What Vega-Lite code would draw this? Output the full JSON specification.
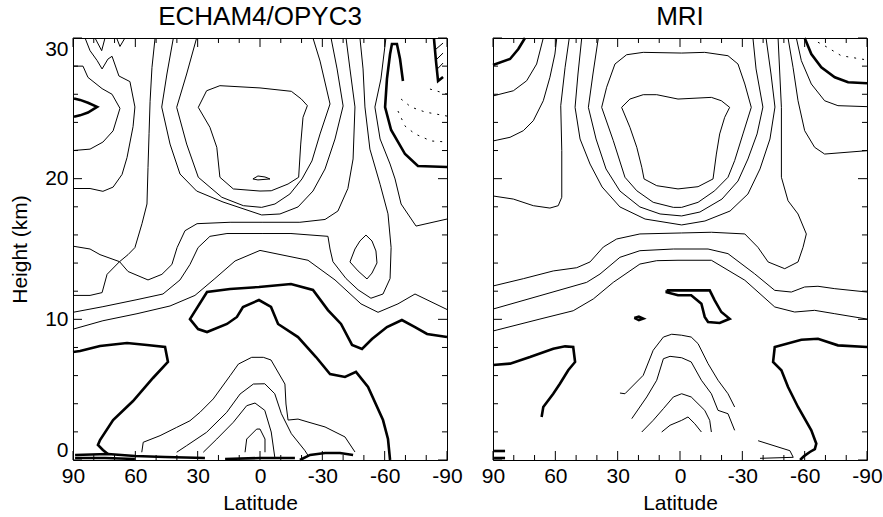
{
"$schema":"https://vega.github.io/schema/vega-lite/v6.json",
"background":"white",
"padding":{"left":9,"top":3,"right":0,"bottom":2},
"bounds":"flush",
"spacing":46,
"config":{
 "view":{"stroke":"black","strokeWidth":1},
 "font":"Liberation Sans",
 "axis":{"grid":false,"domain":false,"ticks":false,"labelColor":"black","titleColor":"black","labelFont":"Liberation Sans","titleFont":"Liberation Sans","labelFontSize":21,"titleFontSize":21,"titleFontWeight":"normal","labelFlush":false,"labelOverlap":false},
 "title":{"font":"Liberation Sans","fontSize":26,"fontWeight":"normal","color":"black"}
},
"datasets":{
"xt":[{"v":-90,"k":"major"},{"v":-80,"k":"minor"},{"v":-70,"k":"minor"},{"v":-60,"k":"major"},{"v":-50,"k":"minor"},{"v":-40,"k":"minor"},{"v":-30,"k":"major"},{"v":-20,"k":"minor"},{"v":-10,"k":"minor"},{"v":0,"k":"major"},{"v":10,"k":"minor"},{"v":20,"k":"minor"},{"v":30,"k":"major"},{"v":40,"k":"minor"},{"v":50,"k":"minor"},{"v":60,"k":"major"},{"v":70,"k":"minor"},{"v":80,"k":"minor"},{"v":90,"k":"major"}],
"yt":[{"v":0,"k":"major"},{"v":2,"k":"minor"},{"v":4,"k":"minor"},{"v":6,"k":"minor"},{"v":8,"k":"minor"},{"v":10,"k":"major"},{"v":12,"k":"minor"},{"v":14,"k":"minor"},{"v":16,"k":"minor"},{"v":18,"k":"minor"},{"v":20,"k":"major"},{"v":22,"k":"minor"},{"v":24,"k":"minor"},{"v":26,"k":"minor"},{"v":28,"k":"minor"},{"v":30,"k":"major"}],
"left":[
{"c":"A","lv":"pos","i":0,"lat":90,"h":28.0},{"c":"A","lv":"pos","i":1,"lat":85.2,"h":28.0},{"c":"A","lv":"pos","i":2,"lat":82.8,"h":27.2},{"c":"A","lv":"pos","i":3,"lat":76.0,"h":26.4},{"c":"A","lv":"pos","i":4,"lat":71.2,"h":26.0},{"c":"A","lv":"pos","i":5,"lat":67.4,"h":25.0},{"c":"A","lv":"pos","i":6,"lat":70.7,"h":23.4},{"c":"A","lv":"pos","i":7,"lat":75.6,"h":22.6},{"c":"A","lv":"pos","i":8,"lat":81.8,"h":22.1},{"c":"A","lv":"pos","i":9,"lat":90,"h":22.0},
{"c":"V","lv":"zero","i":0,"lat":89.5,"h":25.7},{"c":"V","lv":"zero","i":1,"lat":86.6,"h":25.6},{"c":"V","lv":"zero","i":2,"lat":82.8,"h":25.4},{"c":"V","lv":"zero","i":3,"lat":78.4,"h":25.1},{"c":"V","lv":"zero","i":4,"lat":82.8,"h":24.7},{"c":"V","lv":"zero","i":5,"lat":86.6,"h":24.5},{"c":"V","lv":"zero","i":6,"lat":89.5,"h":24.4},
{"c":"B","lv":"pos","i":0,"lat":84.2,"h":30},{"c":"B","lv":"pos","i":1,"lat":81.8,"h":29.1},{"c":"B","lv":"pos","i":2,"lat":78.4,"h":28.4},{"c":"B","lv":"pos","i":3,"lat":76.0,"h":27.8},{"c":"B","lv":"pos","i":4,"lat":73.2,"h":28.5},{"c":"B","lv":"pos","i":5,"lat":71.2,"h":28.7},{"c":"B","lv":"pos","i":6,"lat":67.9,"h":27.3},{"c":"B","lv":"pos","i":7,"lat":62.6,"h":26.9},{"c":"B","lv":"pos","i":8,"lat":60.2,"h":25.1},{"c":"B","lv":"pos","i":9,"lat":61.1,"h":23.7},{"c":"B","lv":"pos","i":10,"lat":64.0,"h":21.5},{"c":"B","lv":"pos","i":11,"lat":66.4,"h":20.3},{"c":"B","lv":"pos","i":12,"lat":70.7,"h":19.4},{"c":"B","lv":"pos","i":13,"lat":75.6,"h":19.1},{"c":"B","lv":"pos","i":14,"lat":81.8,"h":19.3},{"c":"B","lv":"pos","i":15,"lat":87.6,"h":19.3},{"c":"B","lv":"pos","i":16,"lat":90,"h":19.3},
{"c":"v2","lv":"pos","i":0,"lat":79.4,"h":30},{"c":"v2","lv":"pos","i":1,"lat":76.2,"h":29.1},{"c":"v2","lv":"pos","i":2,"lat":74.6,"h":30},
{"c":"u","lv":"pos","i":0,"lat":69.0,"h":30},{"c":"u","lv":"pos","i":1,"lat":67.4,"h":29.4},{"c":"u","lv":"pos","i":2,"lat":65.0,"h":30},
{"c":"C","lv":"pos","i":0,"lat":50.5,"h":30},{"c":"C","lv":"pos","i":1,"lat":52.0,"h":27.9},{"c":"C","lv":"pos","i":2,"lat":52.9,"h":25.5},{"c":"C","lv":"pos","i":3,"lat":53.4,"h":23.2},{"c":"C","lv":"pos","i":4,"lat":53.9,"h":20.8},{"c":"C","lv":"pos","i":5,"lat":54.4,"h":18.2},{"c":"C","lv":"pos","i":6,"lat":56.8,"h":16.8},{"c":"C","lv":"pos","i":7,"lat":60.2,"h":15.1},{"c":"C","lv":"pos","i":8,"lat":63.5,"h":14.6},{"c":"C","lv":"pos","i":9,"lat":67.6,"h":14.1},
{"c":"Xl","lv":"pos","i":0,"lat":90,"h":15.2},{"c":"Xl","lv":"pos","i":1,"lat":81.8,"h":15.0},{"c":"Xl","lv":"pos","i":2,"lat":77.0,"h":14.6},{"c":"Xl","lv":"pos","i":3,"lat":67.6,"h":14.1},
{"c":"T1","lv":"pos","i":0,"lat":90,"h":11.7},{"c":"T1","lv":"pos","i":1,"lat":81.8,"h":11.7},{"c":"T1","lv":"pos","i":2,"lat":76.0,"h":11.9},{"c":"T1","lv":"pos","i":3,"lat":73.6,"h":13.2},{"c":"T1","lv":"pos","i":4,"lat":67.6,"h":14.1},
{"c":"D","lv":"pos","i":0,"lat":67.6,"h":14.1},{"c":"D","lv":"pos","i":1,"lat":63.5,"h":13.4},{"c":"D","lv":"pos","i":2,"lat":53.9,"h":12.8},{"c":"D","lv":"pos","i":3,"lat":47.2,"h":13.2},{"c":"D","lv":"pos","i":4,"lat":42.4,"h":13.9},{"c":"D","lv":"pos","i":5,"lat":39.9,"h":15.1},{"c":"D","lv":"pos","i":6,"lat":36.1,"h":16.3},{"c":"D","lv":"pos","i":7,"lat":30.3,"h":16.8},{"c":"D","lv":"pos","i":8,"lat":14.4,"h":16.9},{"c":"D","lv":"pos","i":9,"lat":-1.0,"h":16.9},{"c":"D","lv":"pos","i":10,"lat":-19.2,"h":16.9},{"c":"D","lv":"pos","i":11,"lat":-31.3,"h":17.1},{"c":"D","lv":"pos","i":12,"lat":-37.5,"h":17.7},{"c":"D","lv":"pos","i":13,"lat":-42.3,"h":19.3},{"c":"D","lv":"pos","i":14,"lat":-44.8,"h":21.4},{"c":"D","lv":"pos","i":15,"lat":-45.7,"h":25.1},{"c":"D","lv":"pos","i":16,"lat":-43.3,"h":27.8},{"c":"D","lv":"pos","i":17,"lat":-41.4,"h":30},
{"c":"T2","lv":"pos","i":0,"lat":90,"h":10.5},{"c":"T2","lv":"pos","i":1,"lat":75.6,"h":10.9},{"c":"T2","lv":"pos","i":2,"lat":59.2,"h":11.4},{"c":"T2","lv":"pos","i":3,"lat":46.7,"h":11.8},{"c":"T2","lv":"pos","i":4,"lat":38.5,"h":12.8},{"c":"T2","lv":"pos","i":5,"lat":33.7,"h":13.9},{"c":"T2","lv":"pos","i":6,"lat":29.8,"h":15.1},{"c":"T2","lv":"pos","i":7,"lat":24.1,"h":15.9},{"c":"T2","lv":"pos","i":8,"lat":15.9,"h":16.1},{"c":"T2","lv":"pos","i":9,"lat":-1.0,"h":16.1},{"c":"T2","lv":"pos","i":10,"lat":-14.9,"h":16.1},{"c":"T2","lv":"pos","i":11,"lat":-32.7,"h":15.9},{"c":"T2","lv":"pos","i":12,"lat":-33.7,"h":15.0},{"c":"T2","lv":"pos","i":13,"lat":-35.1,"h":14.1},{"c":"T2","lv":"pos","i":14,"lat":-41.4,"h":12.9},{"c":"T2","lv":"pos","i":15,"lat":-47.2,"h":12.1},{"c":"T2","lv":"pos","i":16,"lat":-53.4,"h":11.5},{"c":"T2","lv":"pos","i":17,"lat":-59.2,"h":11.8},{"c":"T2","lv":"pos","i":18,"lat":-62.6,"h":12.9},{"c":"T2","lv":"pos","i":19,"lat":-63.1,"h":15.1},{"c":"T2","lv":"pos","i":20,"lat":-61.6,"h":17.5},{"c":"T2","lv":"pos","i":21,"lat":-57.8,"h":19.6},{"c":"T2","lv":"pos","i":22,"lat":-52.9,"h":22.1},{"c":"T2","lv":"pos","i":23,"lat":-50.5,"h":25.1},{"c":"T2","lv":"pos","i":24,"lat":-49.6,"h":27.8},{"c":"T2","lv":"pos","i":25,"lat":-48.1,"h":30},
{"c":"T3","lv":"pos","i":0,"lat":90,"h":9.3},{"c":"T3","lv":"pos","i":1,"lat":75.6,"h":9.9},{"c":"T3","lv":"pos","i":2,"lat":59.2,"h":10.4},{"c":"T3","lv":"pos","i":3,"lat":43.3,"h":10.95},{"c":"T3","lv":"pos","i":4,"lat":31.3,"h":11.7},{"c":"T3","lv":"pos","i":5,"lat":21.7,"h":12.9},{"c":"T3","lv":"pos","i":6,"lat":12.0,"h":14.15},{"c":"T3","lv":"pos","i":7,"lat":0.0,"h":14.9},{"c":"T3","lv":"pos","i":8,"lat":-23.1,"h":14.2},{"c":"T3","lv":"pos","i":9,"lat":-36.1,"h":12.8},{"c":"T3","lv":"pos","i":10,"lat":-48.6,"h":11.1},{"c":"T3","lv":"pos","i":11,"lat":-56.8,"h":10.5},{"c":"T3","lv":"pos","i":12,"lat":-66.4,"h":11.1},{"c":"T3","lv":"pos","i":13,"lat":-74.6,"h":11.8},{"c":"T3","lv":"pos","i":14,"lat":-90,"h":10.7},
{"c":"Th1","lv":"zero","i":0,"lat":-90,"h":8.74},{"c":"Th1","lv":"zero","i":1,"lat":-80.4,"h":8.96},{"c":"Th1","lv":"zero","i":2,"lat":-74.6,"h":9.45},{"c":"Th1","lv":"zero","i":3,"lat":-68.3,"h":9.95},{"c":"Th1","lv":"zero","i":4,"lat":-61.1,"h":9.45},{"c":"Th1","lv":"zero","i":5,"lat":-53.9,"h":8.6},{"c":"Th1","lv":"zero","i":6,"lat":-49.1,"h":7.89},{"c":"Th1","lv":"zero","i":7,"lat":-44.3,"h":8.18},{"c":"Th1","lv":"zero","i":8,"lat":-39.0,"h":9.67},{"c":"Th1","lv":"zero","i":9,"lat":-32.7,"h":10.66},{"c":"Th1","lv":"zero","i":10,"lat":-25.5,"h":12.09},{"c":"Th1","lv":"zero","i":11,"lat":-14.9,"h":12.51},{"c":"Th1","lv":"zero","i":12,"lat":0.5,"h":12.3},{"c":"Th1","lv":"zero","i":13,"lat":14.4,"h":12.16},{"c":"Th1","lv":"zero","i":14,"lat":25.5,"h":11.94},{"c":"Th1","lv":"zero","i":15,"lat":33.7,"h":10.02},{"c":"Th1","lv":"zero","i":16,"lat":29.8,"h":9.31},{"c":"Th1","lv":"zero","i":17,"lat":25.5,"h":9.1},{"c":"Th1","lv":"zero","i":18,"lat":15.9,"h":9.67},{"c":"Th1","lv":"zero","i":19,"lat":11.1,"h":10.17},{"c":"Th1","lv":"zero","i":20,"lat":8.2,"h":10.88},{"c":"Th1","lv":"zero","i":21,"lat":0.5,"h":11.37},{"c":"Th1","lv":"zero","i":22,"lat":-5.3,"h":10.88},{"c":"Th1","lv":"zero","i":23,"lat":-8.7,"h":9.67},{"c":"Th1","lv":"zero","i":24,"lat":-18.3,"h":8.74},{"c":"Th1","lv":"zero","i":25,"lat":-26.95,"h":7.32},{"c":"Th1","lv":"zero","i":26,"lat":-33.7,"h":6.11},{"c":"Th1","lv":"zero","i":27,"lat":-40.9,"h":5.9},{"c":"Th1","lv":"zero","i":28,"lat":-46.2,"h":6.26},{"c":"Th1","lv":"zero","i":29,"lat":-52.0,"h":5.19},{"c":"Th1","lv":"zero","i":30,"lat":-59.2,"h":2.84},{"c":"Th1","lv":"zero","i":31,"lat":-61.6,"h":1.49},{"c":"Th1","lv":"zero","i":32,"lat":-62.6,"h":0},
{"c":"Th2","lv":"zero","i":0,"lat":90,"h":7.68},{"c":"Th2","lv":"zero","i":1,"lat":86.6,"h":7.75},{"c":"Th2","lv":"zero","i":2,"lat":77.0,"h":8.1},{"c":"Th2","lv":"zero","i":3,"lat":64.0,"h":8.32},{"c":"Th2","lv":"zero","i":4,"lat":54.4,"h":8.18},{"c":"Th2","lv":"zero","i":5,"lat":45.7,"h":8.03},{"c":"Th2","lv":"zero","i":6,"lat":44.3,"h":6.97},{"c":"Th2","lv":"zero","i":7,"lat":51.5,"h":5.83},{"c":"Th2","lv":"zero","i":8,"lat":61.1,"h":4.19},{"c":"Th2","lv":"zero","i":9,"lat":70.7,"h":2.84},{"c":"Th2","lv":"zero","i":10,"lat":77.0,"h":1.42},{"c":"Th2","lv":"zero","i":11,"lat":78.0,"h":1.07},{"c":"Th2","lv":"zero","i":12,"lat":75.6,"h":0.71},{"c":"Th2","lv":"zero","i":13,"lat":73.2,"h":0.43},
{"c":"bz1","lv":"zero","i":0,"lat":89.0,"h":0.36},{"c":"bz1","lv":"zero","i":1,"lat":73.2,"h":0.43},{"c":"bz1","lv":"zero","i":2,"lat":60.2,"h":0.28},{"c":"bz1","lv":"zero","i":3,"lat":45.7,"h":0.21},{"c":"bz1","lv":"zero","i":4,"lat":26.5,"h":0.14},
{"c":"bz2","lv":"zero","i":0,"lat":89.0,"h":0.14},{"c":"bz2","lv":"zero","i":1,"lat":74.6,"h":0.14},{"c":"bz2","lv":"zero","i":2,"lat":60.2,"h":0.07},
{"c":"bz3","lv":"zero","i":0,"lat":16.8,"h":0.07},{"c":"bz3","lv":"zero","i":1,"lat":0.0,"h":0.14},{"c":"bz3","lv":"zero","i":2,"lat":-16.8,"h":0.14},
{"c":"bz4","lv":"zero","i":0,"lat":-19.2,"h":0},{"c":"bz4","lv":"zero","i":1,"lat":-24.1,"h":0.36},{"c":"bz4","lv":"zero","i":2,"lat":-31.3,"h":0.5},{"c":"bz4","lv":"zero","i":3,"lat":-38.5,"h":0.5},{"c":"bz4","lv":"zero","i":4,"lat":-44.8,"h":0.36},
{"c":"Bot1","lv":"pos","i":0,"lat":56.9,"h":0.55},{"c":"Bot1","lv":"pos","i":1,"lat":56.2,"h":1.26},{"c":"Bot1","lv":"pos","i":2,"lat":48.1,"h":1.73},{"c":"Bot1","lv":"pos","i":3,"lat":40.1,"h":2.32},{"c":"Bot1","lv":"pos","i":4,"lat":33.7,"h":2.79},{"c":"Bot1","lv":"pos","i":5,"lat":28.9,"h":3.39},{"c":"Bot1","lv":"pos","i":6,"lat":22.5,"h":4.34},{"c":"Bot1","lv":"pos","i":7,"lat":14.4,"h":5.99},{"c":"Bot1","lv":"pos","i":8,"lat":10.4,"h":6.82},{"c":"Bot1","lv":"pos","i":9,"lat":4.0,"h":7.3},{"c":"Bot1","lv":"pos","i":10,"lat":-1.6,"h":7.3},{"c":"Bot1","lv":"pos","i":11,"lat":-5.3,"h":7.11},{"c":"Bot1","lv":"pos","i":12,"lat":-12.0,"h":5.4},{"c":"Bot1","lv":"pos","i":13,"lat":-12.5,"h":3.98},{"c":"Bot1","lv":"pos","i":14,"lat":-13.5,"h":2.84},{"c":"Bot1","lv":"pos","i":15,"lat":-18.3,"h":2.91},{"c":"Bot1","lv":"pos","i":16,"lat":-23.1,"h":2.7},{"c":"Bot1","lv":"pos","i":17,"lat":-31.3,"h":2.35},{"c":"Bot1","lv":"pos","i":18,"lat":-40.9,"h":1.64},{"c":"Bot1","lv":"pos","i":19,"lat":-45.7,"h":0.57},
{"c":"Bot2","lv":"pos","i":0,"lat":40.1,"h":0.55},{"c":"Bot2","lv":"pos","i":1,"lat":35.3,"h":1.02},{"c":"Bot2","lv":"pos","i":2,"lat":25.7,"h":1.97},{"c":"Bot2","lv":"pos","i":3,"lat":16.0,"h":3.39},{"c":"Bot2","lv":"pos","i":4,"lat":9.6,"h":4.69},{"c":"Bot2","lv":"pos","i":5,"lat":3.2,"h":5.4},{"c":"Bot2","lv":"pos","i":6,"lat":-2.3,"h":5.42},{"c":"Bot2","lv":"pos","i":7,"lat":-7.1,"h":4.71},{"c":"Bot2","lv":"pos","i":8,"lat":-10.3,"h":3.29},{"c":"Bot2","lv":"pos","i":9,"lat":-15.1,"h":1.87},{"c":"Bot2","lv":"pos","i":10,"lat":-21.5,"h":0.69},{"c":"Bot2","lv":"pos","i":11,"lat":-23.1,"h":0.33},
{"c":"Bot3","lv":"pos","i":0,"lat":27.3,"h":0.55},{"c":"Bot3","lv":"pos","i":1,"lat":20.8,"h":1.49},{"c":"Bot3","lv":"pos","i":2,"lat":12.85,"h":2.68},{"c":"Bot3","lv":"pos","i":3,"lat":6.4,"h":3.86},{"c":"Bot3","lv":"pos","i":4,"lat":2.4,"h":4.05},{"c":"Bot3","lv":"pos","i":5,"lat":-2.3,"h":3.53},{"c":"Bot3","lv":"pos","i":6,"lat":-5.4,"h":1.99},{"c":"Bot3","lv":"pos","i":7,"lat":-7.1,"h":0.21},
{"c":"Bot4","lv":"pos","i":0,"lat":7.2,"h":0.55},{"c":"Bot4","lv":"pos","i":1,"lat":6.4,"h":1.49},{"c":"Bot4","lv":"pos","i":2,"lat":1.6,"h":2.2},{"c":"Bot4","lv":"pos","i":3,"lat":0,"h":2.2},{"c":"Bot4","lv":"pos","i":4,"lat":-2.4,"h":1.49},{"c":"Bot4","lv":"pos","i":5,"lat":-2.4,"h":0.55},
{"c":"In","lv":"pos","i":0,"lat":19.3,"h":26.61},{"c":"In","lv":"pos","i":1,"lat":25.7,"h":26.25},{"c":"In","lv":"pos","i":2,"lat":29.7,"h":25.07},{"c":"In","lv":"pos","i":3,"lat":24.1,"h":23.65},{"c":"In","lv":"pos","i":4,"lat":20.8,"h":22.23},{"c":"In","lv":"pos","i":5,"lat":19.3,"h":20.1},{"c":"In","lv":"pos","i":6,"lat":12.85,"h":19.27},{"c":"In","lv":"pos","i":7,"lat":0,"h":19.12},{"c":"In","lv":"pos","i":8,"lat":-5.4,"h":19.14},{"c":"In","lv":"pos","i":9,"lat":-13.5,"h":19.62},{"c":"In","lv":"pos","i":10,"lat":-18.6,"h":20.1},{"c":"In","lv":"pos","i":11,"lat":-19.6,"h":22.46},{"c":"In","lv":"pos","i":12,"lat":-20.7,"h":24.36},{"c":"In","lv":"pos","i":13,"lat":-22.8,"h":25.19},{"c":"In","lv":"pos","i":14,"lat":-19.9,"h":25.66},{"c":"In","lv":"pos","i":15,"lat":-15.1,"h":26.21},{"c":"In","lv":"pos","i":16,"lat":0,"h":26.45},{"c":"In","lv":"pos","i":17,"lat":19.3,"h":26.61},
{"c":"Tip","lv":"pos","i":0,"lat":3.4,"h":19.98},{"c":"Tip","lv":"pos","i":1,"lat":1.0,"h":20.19},{"c":"Tip","lv":"pos","i":2,"lat":-2.4,"h":20.12},{"c":"Tip","lv":"pos","i":3,"lat":-4.8,"h":19.98},{"c":"Tip","lv":"pos","i":4,"lat":1.0,"h":19.91},{"c":"Tip","lv":"pos","i":5,"lat":3.4,"h":19.98},
{"c":"U2","lv":"pos","i":0,"lat":30.5,"h":30},{"c":"U2","lv":"pos","i":1,"lat":35.3,"h":27.44},{"c":"U2","lv":"pos","i":2,"lat":40.1,"h":25.07},{"c":"U2","lv":"pos","i":3,"lat":35.3,"h":22.46},{"c":"U2","lv":"pos","i":4,"lat":29.7,"h":20.1},{"c":"U2","lv":"pos","i":5,"lat":18.4,"h":18.68},{"c":"U2","lv":"pos","i":6,"lat":8.0,"h":18.08},{"c":"U2","lv":"pos","i":7,"lat":-0.8,"h":17.96},{"c":"U2","lv":"pos","i":8,"lat":-7.2,"h":18.2},{"c":"U2","lv":"pos","i":9,"lat":-14.4,"h":18.91},{"c":"U2","lv":"pos","i":10,"lat":-20.2,"h":19.98},{"c":"U2","lv":"pos","i":11,"lat":-25.0,"h":21.26},{"c":"U2","lv":"pos","i":12,"lat":-28.9,"h":23.18},{"c":"U2","lv":"pos","i":13,"lat":-33.7,"h":25.31},{"c":"U2","lv":"pos","i":14,"lat":-28.9,"h":28.36},{"c":"U2","lv":"pos","i":15,"lat":-25.5,"h":30},
{"c":"U1","lv":"pos","i":0,"lat":41.7,"h":30},{"c":"U1","lv":"pos","i":1,"lat":44.8,"h":27.44},{"c":"U1","lv":"pos","i":2,"lat":47.3,"h":25.09},{"c":"U1","lv":"pos","i":3,"lat":43.3,"h":22.46},{"c":"U1","lv":"pos","i":4,"lat":38.5,"h":20.33},{"c":"U1","lv":"pos","i":5,"lat":30.5,"h":19.12},{"c":"U1","lv":"pos","i":6,"lat":17.8,"h":18.34},{"c":"U1","lv":"pos","i":7,"lat":-0.8,"h":17.42},{"c":"U1","lv":"pos","i":8,"lat":-9.6,"h":17.49},{"c":"U1","lv":"pos","i":9,"lat":-18.3,"h":17.99},{"c":"U1","lv":"pos","i":10,"lat":-25.5,"h":19.12},{"c":"U1","lv":"pos","i":11,"lat":-31.3,"h":20.69},{"c":"U1","lv":"pos","i":12,"lat":-36.1,"h":22.82},{"c":"U1","lv":"pos","i":13,"lat":-40.0,"h":25.17},{"c":"U1","lv":"pos","i":14,"lat":-37.1,"h":27.8},{"c":"U1","lv":"pos","i":15,"lat":-34.2,"h":30},
{"c":"R1","lv":"pos","i":0,"lat":-60.6,"h":30},{"c":"R1","lv":"pos","i":1,"lat":-58.2,"h":27.09},{"c":"R1","lv":"pos","i":2,"lat":-55.3,"h":25.09},{"c":"R1","lv":"pos","i":3,"lat":-57.8,"h":22.82},{"c":"R1","lv":"pos","i":4,"lat":-62.6,"h":21.04},{"c":"R1","lv":"pos","i":5,"lat":-65.0,"h":19.98},{"c":"R1","lv":"pos","i":6,"lat":-67.9,"h":18.2},{"c":"R1","lv":"pos","i":7,"lat":-75.1,"h":16.63},{"c":"R1","lv":"pos","i":8,"lat":-90,"h":17.13},
{"c":"Hook","lv":"zero","i":0,"lat":-68.8,"h":26.94},{"c":"Hook","lv":"zero","i":1,"lat":-67.4,"h":28.51},{"c":"Hook","lv":"zero","i":2,"lat":-65.9,"h":29.57},{"c":"Hook","lv":"zero","i":3,"lat":-63.5,"h":29.57},{"c":"Hook","lv":"zero","i":4,"lat":-62.6,"h":28.86},{"c":"Hook","lv":"zero","i":5,"lat":-61.1,"h":27.09},{"c":"Hook","lv":"zero","i":6,"lat":-60.2,"h":25.09},{"c":"Hook","lv":"zero","i":7,"lat":-63.1,"h":23.46},{"c":"Hook","lv":"zero","i":8,"lat":-69.8,"h":21.75},{"c":"Hook","lv":"zero","i":9,"lat":-76.0,"h":20.9},{"c":"Hook","lv":"zero","i":10,"lat":-90,"h":20.83},
{"c":"Hat","lv":"zero","i":0,"lat":-83.7,"h":30},{"c":"Hat","lv":"zero","i":1,"lat":-84.7,"h":28.36},{"c":"Hat","lv":"zero","i":2,"lat":-85.7,"h":26.94},{"c":"Hat","lv":"zero","i":3,"lat":-88.1,"h":27.23},
{"c":"h1","lv":"pos","i":0,"lat":-84.2,"h":29.15},{"c":"h1","lv":"pos","i":1,"lat":-88.1,"h":29.64},
{"c":"h2","lv":"pos","i":0,"lat":-84.7,"h":28.44},{"c":"h2","lv":"pos","i":1,"lat":-88.1,"h":28.93},
{"c":"h3","lv":"pos","i":0,"lat":-84.9,"h":27.73},{"c":"h3","lv":"pos","i":1,"lat":-88.1,"h":28.22},
{"c":"Dt1","lv":"neg","i":0,"lat":-67.9,"h":25.66},{"c":"Dt1","lv":"neg","i":1,"lat":-72.7,"h":25.09},{"c":"Dt1","lv":"neg","i":2,"lat":-79.4,"h":24.74},{"c":"Dt1","lv":"neg","i":3,"lat":-90,"h":24.45},
{"c":"Dt2","lv":"neg","i":0,"lat":-66.4,"h":24.81},{"c":"Dt2","lv":"neg","i":1,"lat":-69.8,"h":23.74},{"c":"Dt2","lv":"neg","i":2,"lat":-74.6,"h":23.18},{"c":"Dt2","lv":"neg","i":3,"lat":-82.3,"h":22.68},{"c":"Dt2","lv":"neg","i":4,"lat":-90,"h":22.61},
{"c":"Dt3","lv":"neg","i":0,"lat":-81.8,"h":26.37},{"c":"Dt3","lv":"neg","i":1,"lat":-90,"h":26.02},
{"c":"Lp","lv":"pos","i":0,"lat":-43.3,"h":14.08},{"c":"Lp","lv":"pos","i":1,"lat":-45.7,"h":15.0},{"c":"Lp","lv":"pos","i":2,"lat":-48.1,"h":15.57},{"c":"Lp","lv":"pos","i":3,"lat":-51.0,"h":15.99},{"c":"Lp","lv":"pos","i":4,"lat":-53.9,"h":15.57},{"c":"Lp","lv":"pos","i":5,"lat":-55.8,"h":14.86},{"c":"Lp","lv":"pos","i":6,"lat":-56.3,"h":14.01},{"c":"Lp","lv":"pos","i":7,"lat":-53.9,"h":13.29},{"c":"Lp","lv":"pos","i":8,"lat":-51.5,"h":12.87},{"c":"Lp","lv":"pos","i":9,"lat":-47.2,"h":13.44},{"c":"Lp","lv":"pos","i":10,"lat":-43.3,"h":14.08}
],
"right":[
{"c":"tl","lv":"zero","i":0,"lat":90,"h":28.08},{"c":"tl","lv":"zero","i":1,"lat":81.8,"h":28.51},{"c":"tl","lv":"zero","i":2,"lat":77.8,"h":29.22},{"c":"tl","lv":"zero","i":3,"lat":74.6,"h":30},
{"c":"r543","lv":"pos","i":0,"lat":90,"h":25.88},{"c":"r543","lv":"pos","i":1,"lat":80.2,"h":26.25},{"c":"r543","lv":"pos","i":2,"lat":73.8,"h":26.96},{"c":"r543","lv":"pos","i":3,"lat":69.0,"h":28.15},{"c":"r543","lv":"pos","i":4,"lat":65.8,"h":30},
{"c":"r557","lv":"pos","i":0,"lat":90,"h":22.68},{"c":"r557","lv":"pos","i":1,"lat":81.8,"h":22.94},{"c":"r557","lv":"pos","i":2,"lat":75.4,"h":23.41},{"c":"r557","lv":"pos","i":3,"lat":70.6,"h":24.12},{"c":"r557","lv":"pos","i":4,"lat":65.8,"h":25.54},{"c":"r557","lv":"pos","i":5,"lat":62.6,"h":27.21},{"c":"r557","lv":"pos","i":6,"lat":60.2,"h":28.86},{"c":"r557","lv":"pos","i":7,"lat":59.3,"h":30},
{"c":"V1","lv":"pos","i":0,"lat":53.3,"h":30},{"c":"V1","lv":"pos","i":1,"lat":55.3,"h":27.92},{"c":"V1","lv":"pos","i":2,"lat":57.4,"h":25.19},{"c":"V1","lv":"pos","i":3,"lat":56.9,"h":21.99},{"c":"V1","lv":"pos","i":4,"lat":56.9,"h":18.68},{"c":"V1","lv":"pos","i":5,"lat":58.6,"h":18.08},{"c":"V1","lv":"pos","i":6,"lat":62.6,"h":17.91},{"c":"V1","lv":"pos","i":7,"lat":70.6,"h":18.08},{"c":"V1","lv":"pos","i":8,"lat":80.2,"h":18.55},{"c":"V1","lv":"pos","i":9,"lat":90,"h":18.77},
{"c":"Ua","lv":"pos","i":0,"lat":47.3,"h":30},{"c":"Ua","lv":"pos","i":1,"lat":49.1,"h":27.44},{"c":"Ua","lv":"pos","i":2,"lat":50.5,"h":25.07},{"c":"Ua","lv":"pos","i":3,"lat":48.1,"h":22.82},{"c":"Ua","lv":"pos","i":4,"lat":43.3,"h":21.04},{"c":"Ua","lv":"pos","i":5,"lat":37.5,"h":19.41},{"c":"Ua","lv":"pos","i":6,"lat":28.9,"h":17.99},{"c":"Ua","lv":"pos","i":7,"lat":16.8,"h":17.13},{"c":"Ua","lv":"pos","i":8,"lat":-0.8,"h":16.71},{"c":"Ua","lv":"pos","i":9,"lat":-12.0,"h":16.99},{"c":"Ua","lv":"pos","i":10,"lat":-24.1,"h":17.7},{"c":"Ua","lv":"pos","i":11,"lat":-32.7,"h":18.91},{"c":"Ua","lv":"pos","i":12,"lat":-38.5,"h":20.69},{"c":"Ua","lv":"pos","i":13,"lat":-43.3,"h":22.82},{"c":"Ua","lv":"pos","i":14,"lat":-45.7,"h":25.09},{"c":"Ua","lv":"pos","i":15,"lat":-43.8,"h":27.44},{"c":"Ua","lv":"pos","i":16,"lat":-41.4,"h":30},
{"c":"Ub","lv":"pos","i":0,"lat":39.3,"h":30},{"c":"Ub","lv":"pos","i":1,"lat":41.9,"h":27.44},{"c":"Ub","lv":"pos","i":2,"lat":44.1,"h":25.07},{"c":"Ub","lv":"pos","i":3,"lat":40.4,"h":22.82},{"c":"Ub","lv":"pos","i":4,"lat":35.6,"h":20.69},{"c":"Ub","lv":"pos","i":5,"lat":28.9,"h":19.12},{"c":"Ub","lv":"pos","i":6,"lat":19.3,"h":17.99},{"c":"Ub","lv":"pos","i":7,"lat":9.6,"h":17.49},{"c":"Ub","lv":"pos","i":8,"lat":-0.8,"h":17.35},{"c":"Ub","lv":"pos","i":9,"lat":-9.6,"h":17.63},{"c":"Ub","lv":"pos","i":10,"lat":-20.2,"h":18.55},{"c":"Ub","lv":"pos","i":11,"lat":-27.9,"h":19.83},{"c":"Ub","lv":"pos","i":12,"lat":-32.7,"h":21.4},{"c":"Ub","lv":"pos","i":13,"lat":-37.1,"h":23.18},{"c":"Ub","lv":"pos","i":14,"lat":-39.9,"h":25.09},{"c":"Ub","lv":"pos","i":15,"lat":-36.6,"h":27.8},{"c":"Ub","lv":"pos","i":16,"lat":-35.1,"h":30},
{"c":"C2","lv":"pos","i":0,"lat":-0.8,"h":28.93},{"c":"C2","lv":"pos","i":1,"lat":17.7,"h":28.98},{"c":"C2","lv":"pos","i":2,"lat":25.7,"h":28.81},{"c":"C2","lv":"pos","i":3,"lat":31.3,"h":28.15},{"c":"C2","lv":"pos","i":4,"lat":35.3,"h":26.5},{"c":"C2","lv":"pos","i":5,"lat":37.7,"h":25.07},{"c":"C2","lv":"pos","i":6,"lat":32.1,"h":22.7},{"c":"C2","lv":"pos","i":7,"lat":26.5,"h":20.1},{"c":"C2","lv":"pos","i":8,"lat":20.8,"h":19.14},{"c":"C2","lv":"pos","i":9,"lat":12.9,"h":18.32},{"c":"C2","lv":"pos","i":10,"lat":3.2,"h":17.96},{"c":"C2","lv":"pos","i":11,"lat":-0.8,"h":17.96},{"c":"C2","lv":"pos","i":12,"lat":-8.7,"h":18.32},{"c":"C2","lv":"pos","i":13,"lat":-16.7,"h":19.14},{"c":"C2","lv":"pos","i":14,"lat":-23.1,"h":20.1},{"c":"C2","lv":"pos","i":15,"lat":-26.3,"h":21.28},{"c":"C2","lv":"pos","i":16,"lat":-30.3,"h":23.18},{"c":"C2","lv":"pos","i":17,"lat":-34.3,"h":25.07},{"c":"C2","lv":"pos","i":18,"lat":-31.2,"h":26.73},{"c":"C2","lv":"pos","i":19,"lat":-27.9,"h":28.15},{"c":"C2","lv":"pos","i":20,"lat":-23.1,"h":28.74},{"c":"C2","lv":"pos","i":21,"lat":-11.9,"h":28.98},{"c":"C2","lv":"pos","i":22,"lat":-0.8,"h":28.93},
{"c":"C1","lv":"pos","i":0,"lat":28.1,"h":25.07},{"c":"C1","lv":"pos","i":1,"lat":24.1,"h":25.66},{"c":"C1","lv":"pos","i":2,"lat":17.7,"h":25.97},{"c":"C1","lv":"pos","i":3,"lat":11.2,"h":25.97},{"c":"C1","lv":"pos","i":4,"lat":0.96,"h":25.66},{"c":"C1","lv":"pos","i":5,"lat":-15.1,"h":25.78},{"c":"C1","lv":"pos","i":6,"lat":-19.9,"h":25.54},{"c":"C1","lv":"pos","i":7,"lat":-23.9,"h":25.07},{"c":"C1","lv":"pos","i":8,"lat":-21.5,"h":24.36},{"c":"C1","lv":"pos","i":9,"lat":-19.1,"h":23.18},{"c":"C1","lv":"pos","i":10,"lat":-17.5,"h":21.75},{"c":"C1","lv":"pos","i":11,"lat":-15.9,"h":19.98},{"c":"C1","lv":"pos","i":12,"lat":-8.7,"h":19.43},{"c":"C1","lv":"pos","i":13,"lat":0.96,"h":19.27},{"c":"C1","lv":"pos","i":14,"lat":11.2,"h":19.5},{"c":"C1","lv":"pos","i":15,"lat":17.3,"h":19.98},{"c":"C1","lv":"pos","i":16,"lat":18.4,"h":20.81},{"c":"C1","lv":"pos","i":17,"lat":20.8,"h":22.23},{"c":"C1","lv":"pos","i":18,"lat":24.1,"h":23.65},{"c":"C1","lv":"pos","i":19,"lat":28.1,"h":25.07},
{"c":"tr","lv":"zero","i":0,"lat":-60.0,"h":30},{"c":"tr","lv":"zero","i":1,"lat":-63.2,"h":28.86},{"c":"tr","lv":"zero","i":2,"lat":-68.0,"h":27.92},{"c":"tr","lv":"zero","i":3,"lat":-74.5,"h":27.21},{"c":"tr","lv":"zero","i":4,"lat":-80.9,"h":26.85},{"c":"tr","lv":"zero","i":5,"lat":-90,"h":26.78},
{"c":"dtr","lv":"neg","i":0,"lat":-66.4,"h":29.7},{"c":"dtr","lv":"neg","i":1,"lat":-69.6,"h":29.45},{"c":"dtr","lv":"neg","i":2,"lat":-77.6,"h":28.74},{"c":"dtr","lv":"neg","i":3,"lat":-90,"h":28.44},
{"c":"r796","lv":"pos","i":0,"lat":-56.0,"h":30},{"c":"r796","lv":"pos","i":1,"lat":-58.4,"h":28.39},{"c":"r796","lv":"pos","i":2,"lat":-63.2,"h":26.73},{"c":"r796","lv":"pos","i":3,"lat":-69.6,"h":25.54},{"c":"r796","lv":"pos","i":4,"lat":-76.0,"h":25.19},{"c":"r796","lv":"pos","i":5,"lat":-90,"h":25.12},
{"c":"r788","lv":"pos","i":0,"lat":-52.0,"h":30},{"c":"r788","lv":"pos","i":1,"lat":-54.4,"h":27.92},{"c":"r788","lv":"pos","i":2,"lat":-56.8,"h":25.54},{"c":"r788","lv":"pos","i":3,"lat":-60.0,"h":23.41},{"c":"r788","lv":"pos","i":4,"lat":-64.8,"h":22.23},{"c":"r788","lv":"pos","i":5,"lat":-69.6,"h":21.75},{"c":"r788","lv":"pos","i":6,"lat":-90,"h":21.99},
{"c":"RT1","lv":"pos","i":0,"lat":90,"h":12.37},{"c":"RT1","lv":"pos","i":1,"lat":75.4,"h":12.89},{"c":"RT1","lv":"pos","i":2,"lat":61.0,"h":13.44},{"c":"RT1","lv":"pos","i":3,"lat":49.7,"h":13.67},{"c":"RT1","lv":"pos","i":4,"lat":43.3,"h":14.08},{"c":"RT1","lv":"pos","i":5,"lat":36.9,"h":15.14},{"c":"RT1","lv":"pos","i":6,"lat":30.5,"h":15.71},{"c":"RT1","lv":"pos","i":7,"lat":19.3,"h":16.07},{"c":"RT1","lv":"pos","i":8,"lat":-0.8,"h":16.14},{"c":"RT1","lv":"pos","i":9,"lat":-15.1,"h":16.19},{"c":"RT1","lv":"pos","i":10,"lat":-31.2,"h":16.07},{"c":"RT1","lv":"pos","i":11,"lat":-37.5,"h":15.12},{"c":"RT1","lv":"pos","i":12,"lat":-42.4,"h":14.08},{"c":"RT1","lv":"pos","i":13,"lat":-50.4,"h":13.6},{"c":"RT1","lv":"pos","i":14,"lat":-56.8,"h":14.08},{"c":"RT1","lv":"pos","i":15,"lat":-59.2,"h":15.12},{"c":"RT1","lv":"pos","i":16,"lat":-60.8,"h":16.07},{"c":"RT1","lv":"pos","i":17,"lat":-56.8,"h":17.49},{"c":"RT1","lv":"pos","i":18,"lat":-52.0,"h":18.43},{"c":"RT1","lv":"pos","i":19,"lat":-48.8,"h":20.1},{"c":"RT1","lv":"pos","i":20,"lat":-48.8,"h":25.07},{"c":"RT1","lv":"pos","i":21,"lat":-47.2,"h":30},
{"c":"RT2","lv":"pos","i":0,"lat":90,"h":10.73},{"c":"RT2","lv":"pos","i":1,"lat":67.4,"h":11.68},{"c":"RT2","lv":"pos","i":2,"lat":44.9,"h":12.63},{"c":"RT2","lv":"pos","i":3,"lat":38.5,"h":13.22},{"c":"RT2","lv":"pos","i":4,"lat":28.9,"h":14.41},{"c":"RT2","lv":"pos","i":5,"lat":19.3,"h":14.88},{"c":"RT2","lv":"pos","i":6,"lat":3.2,"h":15.0},{"c":"RT2","lv":"pos","i":7,"lat":-13.5,"h":15.0},{"c":"RT2","lv":"pos","i":8,"lat":-23.1,"h":14.67},{"c":"RT2","lv":"pos","i":9,"lat":-35.9,"h":13.24},{"c":"RT2","lv":"pos","i":10,"lat":-45.6,"h":12.06},{"c":"RT2","lv":"pos","i":11,"lat":-53.6,"h":11.94},{"c":"RT2","lv":"pos","i":12,"lat":-60.0,"h":12.3},{"c":"RT2","lv":"pos","i":13,"lat":-66.4,"h":12.35},{"c":"RT2","lv":"pos","i":14,"lat":-74.5,"h":12.18},{"c":"RT2","lv":"pos","i":15,"lat":-90,"h":11.94},
{"c":"RT3","lv":"pos","i":0,"lat":90,"h":9.17},{"c":"RT3","lv":"pos","i":1,"lat":67.4,"h":10.02},{"c":"RT3","lv":"pos","i":2,"lat":51.4,"h":10.61},{"c":"RT3","lv":"pos","i":3,"lat":41.7,"h":11.45},{"c":"RT3","lv":"pos","i":4,"lat":32.1,"h":12.63},{"c":"RT3","lv":"pos","i":5,"lat":19.3,"h":13.93},{"c":"RT3","lv":"pos","i":6,"lat":11.2,"h":14.17},{"c":"RT3","lv":"pos","i":7,"lat":0.96,"h":14.2},{"c":"RT3","lv":"pos","i":8,"lat":-15.1,"h":14.2},{"c":"RT3","lv":"pos","i":9,"lat":-31.2,"h":12.78},{"c":"RT3","lv":"pos","i":10,"lat":-45.6,"h":10.88},{"c":"RT3","lv":"pos","i":11,"lat":-55.2,"h":10.52},{"c":"RT3","lv":"pos","i":12,"lat":-64.8,"h":10.64},{"c":"RT3","lv":"pos","i":13,"lat":-74.5,"h":10.4},{"c":"RT3","lv":"pos","i":14,"lat":-90,"h":10.02},
{"c":"thL","lv":"zero","i":0,"lat":90,"h":6.75},{"c":"thL","lv":"zero","i":1,"lat":81.8,"h":6.85},{"c":"thL","lv":"zero","i":2,"lat":72.2,"h":7.32},{"c":"thL","lv":"zero","i":3,"lat":61.0,"h":7.91},{"c":"thL","lv":"zero","i":4,"lat":55.3,"h":8.08},{"c":"thL","lv":"zero","i":5,"lat":51.4,"h":8.03},{"c":"thL","lv":"zero","i":6,"lat":50.5,"h":6.97},{"c":"thL","lv":"zero","i":7,"lat":53.8,"h":6.38},{"c":"thL","lv":"zero","i":8,"lat":57.8,"h":5.42},{"c":"thL","lv":"zero","i":9,"lat":61.0,"h":4.71},{"c":"thL","lv":"zero","i":10,"lat":65.8,"h":3.77},{"c":"thL","lv":"zero","i":11,"lat":66.6,"h":3.06},
{"c":"thR","lv":"zero","i":0,"lat":-90,"h":8.03},{"c":"thR","lv":"zero","i":1,"lat":-76.0,"h":8.15},{"c":"thR","lv":"zero","i":2,"lat":-66.4,"h":8.62},{"c":"thR","lv":"zero","i":3,"lat":-58.4,"h":8.55},{"c":"thR","lv":"zero","i":4,"lat":-45.6,"h":8.03},{"c":"thR","lv":"zero","i":5,"lat":-44.8,"h":6.97},{"c":"thR","lv":"zero","i":6,"lat":-48.8,"h":6.38},{"c":"thR","lv":"zero","i":7,"lat":-52.0,"h":5.19},{"c":"thR","lv":"zero","i":8,"lat":-56.8,"h":3.77},{"c":"thR","lv":"zero","i":9,"lat":-63.2,"h":2.11},{"c":"thR","lv":"zero","i":10,"lat":-65.6,"h":1.16},{"c":"thR","lv":"zero","i":11,"lat":-64.9,"h":0.78},{"c":"thR","lv":"zero","i":12,"lat":-62.5,"h":0.57},{"c":"thR","lv":"zero","i":13,"lat":-59.7,"h":0.28},{"c":"thR","lv":"zero","i":14,"lat":-57.8,"h":0},
{"c":"thC","lv":"zero","i":0,"lat":6.4,"h":12.06},{"c":"thC","lv":"zero","i":1,"lat":0.96,"h":12.06},{"c":"thC","lv":"zero","i":2,"lat":-14.3,"h":12.06},{"c":"thC","lv":"zero","i":3,"lat":-16.7,"h":11.35},{"c":"thC","lv":"zero","i":4,"lat":-19.9,"h":10.52},{"c":"thC","lv":"zero","i":5,"lat":-23.9,"h":10.04},{"c":"thC","lv":"zero","i":6,"lat":-19.1,"h":9.74},{"c":"thC","lv":"zero","i":7,"lat":-13.5,"h":9.81},{"c":"thC","lv":"zero","i":8,"lat":-11.9,"h":10.17},{"c":"thC","lv":"zero","i":9,"lat":-10.3,"h":11.11},{"c":"thC","lv":"zero","i":10,"lat":-5.4,"h":11.71},{"c":"thC","lv":"zero","i":11,"lat":0.96,"h":11.71},{"c":"thC","lv":"zero","i":12,"lat":6.4,"h":11.92},{"c":"thC","lv":"zero","i":13,"lat":6.4,"h":12.06},
{"c":"dot","lv":"zero","i":0,"lat":22.0,"h":10.1},{"c":"dot","lv":"zero","i":1,"lat":19.8,"h":10.2},{"c":"dot","lv":"zero","i":2,"lat":17.7,"h":10.06},{"c":"dot","lv":"zero","i":3,"lat":19.8,"h":9.95},{"c":"dot","lv":"zero","i":4,"lat":22.0,"h":10.1},
{"c":"B1","lv":"pos","i":0,"lat":28.9,"h":4.76},{"c":"B1","lv":"pos","i":1,"lat":26.5,"h":4.71},{"c":"B1","lv":"pos","i":2,"lat":17.7,"h":6.02},{"c":"B1","lv":"pos","i":3,"lat":12.9,"h":7.8},{"c":"B1","lv":"pos","i":4,"lat":8.0,"h":8.74},{"c":"B1","lv":"pos","i":5,"lat":4.0,"h":8.94},{"c":"B1","lv":"pos","i":6,"lat":-0.8,"h":8.87},{"c":"B1","lv":"pos","i":7,"lat":-5.4,"h":8.74},{"c":"B1","lv":"pos","i":8,"lat":-8.7,"h":8.27},{"c":"B1","lv":"pos","i":9,"lat":-13.5,"h":6.85},{"c":"B1","lv":"pos","i":10,"lat":-18.3,"h":5.67},{"c":"B1","lv":"pos","i":11,"lat":-23.1,"h":4.71},{"c":"B1","lv":"pos","i":12,"lat":-26.3,"h":3.77},
{"c":"B2","lv":"pos","i":0,"lat":23.2,"h":2.94},{"c":"B2","lv":"pos","i":1,"lat":16.0,"h":4.48},{"c":"B2","lv":"pos","i":2,"lat":11.2,"h":5.67},{"c":"B2","lv":"pos","i":3,"lat":8.0,"h":7.2},{"c":"B2","lv":"pos","i":4,"lat":4.8,"h":7.37},{"c":"B2","lv":"pos","i":5,"lat":-0.8,"h":7.27},{"c":"B2","lv":"pos","i":6,"lat":-5.4,"h":6.97},{"c":"B2","lv":"pos","i":7,"lat":-10.3,"h":5.67},{"c":"B2","lv":"pos","i":8,"lat":-15.1,"h":4.71},{"c":"B2","lv":"pos","i":9,"lat":-18.3,"h":3.53},{"c":"B2","lv":"pos","i":10,"lat":-23.1,"h":3.29},{"c":"B2","lv":"pos","i":11,"lat":-26.3,"h":2.11},
{"c":"B3","lv":"pos","i":0,"lat":18.4,"h":1.99},{"c":"B3","lv":"pos","i":1,"lat":12.9,"h":2.82},{"c":"B3","lv":"pos","i":2,"lat":8.0,"h":3.65},{"c":"B3","lv":"pos","i":3,"lat":3.2,"h":4.48},{"c":"B3","lv":"pos","i":4,"lat":-0.8,"h":4.71},{"c":"B3","lv":"pos","i":5,"lat":-5.4,"h":4.48},{"c":"B3","lv":"pos","i":6,"lat":-11.9,"h":3.53},{"c":"B3","lv":"pos","i":7,"lat":-14.3,"h":2.82},{"c":"B3","lv":"pos","i":8,"lat":-15.1,"h":1.99},
{"c":"B4","lv":"pos","i":0,"lat":8.8,"h":1.99},{"c":"B4","lv":"pos","i":1,"lat":4.8,"h":2.47},{"c":"B4","lv":"pos","i":2,"lat":-0.8,"h":2.82},{"c":"B4","lv":"pos","i":3,"lat":-3.85,"h":3.06},{"c":"B4","lv":"pos","i":4,"lat":-7.1,"h":2.58},{"c":"B4","lv":"pos","i":5,"lat":-10.3,"h":1.99},
{"c":"bt","lv":"pos","i":0,"lat":-37.6,"h":1.37},{"c":"bt","lv":"pos","i":1,"lat":-52.9,"h":0.66},{"c":"bt","lv":"pos","i":2,"lat":-54.5,"h":0.19},{"c":"bt","lv":"pos","i":3,"lat":-38.5,"h":0.12},
{"c":"bl1","lv":"zero","i":0,"lat":89.5,"h":0.64},{"c":"bl1","lv":"zero","i":1,"lat":84.2,"h":0.64},
{"c":"bl2","lv":"zero","i":0,"lat":89.5,"h":0.14},{"c":"bl2","lv":"zero","i":1,"lat":84.2,"h":0.14}
]
},
"hconcat":[
{
 "title":{"text":"ECHAM4/OPYC3","offset":3},
 "width":374,"height":422,
 "layer":[
  {"data":{"name":"left"},"transform":[{"filter":"datum.lv==='pos'"}],
   "mark":{"type":"line","color":"black","strokeWidth":1},
   "encoding":{
    "x":{"field":"lat","type":"quantitative","scale":{"domain":[-90,90],"reverse":true,"nice":false,"zero":false},
      "axis":{"orient":"bottom","values":[-90,-60,-30,0,30,60,90],"labelExpr":"'' + datum.value","labelPadding":5,"title":"Latitude","titlePadding":6}},
    "y":{"field":"h","type":"quantitative","scale":{"domain":[0,30],"nice":false,"zero":false},
      "axis":{"orient":"left","values":[0,10,20,30],"labelExpr":"'' + datum.value","labelFlush":true,"labelPadding":5,"title":"Height (km)","titlePadding":14}},
    "detail":{"field":"c"},
    "order":{"field":"i","type":"quantitative"}}},
  {"data":{"name":"left"},"transform":[{"filter":"datum.lv==='zero'"}],
   "mark":{"type":"line","color":"black","strokeWidth":2.6},
   "encoding":{"x":{"field":"lat","type":"quantitative","axis":null},"y":{"field":"h","type":"quantitative","axis":null},"detail":{"field":"c"},"order":{"field":"i","type":"quantitative"}}},
  {"data":{"name":"left"},"transform":[{"filter":"datum.lv==='neg'"}],
   "mark":{"type":"line","color":"black","strokeWidth":1,"strokeDash":[2,6]},
   "encoding":{"x":{"field":"lat","type":"quantitative","axis":null},"y":{"field":"h","type":"quantitative","axis":null},"detail":{"field":"c"},"order":{"field":"i","type":"quantitative"}}},
  {"data":{"name":"xt"},"transform":[{"filter":"datum.k==='major'"}],"mark":{"type":"rule","color":"black","strokeWidth":1},
   "encoding":{"x":{"field":"v","type":"quantitative","axis":null},"y":{"datum":0,"type":"quantitative","axis":null},"y2":{"datum":0.64}}},
  {"data":{"name":"xt"},"transform":[{"filter":"datum.k==='minor'"}],"mark":{"type":"rule","color":"black","strokeWidth":1},
   "encoding":{"x":{"field":"v","type":"quantitative","axis":null},"y":{"datum":0,"type":"quantitative","axis":null},"y2":{"datum":0.355}}},
  {"data":{"name":"xt"},"transform":[{"filter":"datum.k==='major'"}],"mark":{"type":"rule","color":"black","strokeWidth":1},
   "encoding":{"x":{"field":"v","type":"quantitative","axis":null},"y":{"datum":30,"type":"quantitative","axis":null},"y2":{"datum":29.36}}},
  {"data":{"name":"xt"},"transform":[{"filter":"datum.k==='minor'"}],"mark":{"type":"rule","color":"black","strokeWidth":1},
   "encoding":{"x":{"field":"v","type":"quantitative","axis":null},"y":{"datum":30,"type":"quantitative","axis":null},"y2":{"datum":29.645}}},
  {"data":{"name":"yt"},"transform":[{"filter":"datum.k==='major'"}],"mark":{"type":"rule","color":"black","strokeWidth":1},
   "encoding":{"y":{"field":"v","type":"quantitative","axis":null},"x":{"datum":90,"type":"quantitative","axis":null},"x2":{"datum":85.67}}},
  {"data":{"name":"yt"},"transform":[{"filter":"datum.k==='minor'"}],"mark":{"type":"rule","color":"black","strokeWidth":1},
   "encoding":{"y":{"field":"v","type":"quantitative","axis":null},"x":{"datum":90,"type":"quantitative","axis":null},"x2":{"datum":87.59}}},
  {"data":{"name":"yt"},"transform":[{"filter":"datum.k==='major'"}],"mark":{"type":"rule","color":"black","strokeWidth":1},
   "encoding":{"y":{"field":"v","type":"quantitative","axis":null},"x":{"datum":-90,"type":"quantitative","axis":null},"x2":{"datum":-85.67}}},
  {"data":{"name":"yt"},"transform":[{"filter":"datum.k==='minor'"}],"mark":{"type":"rule","color":"black","strokeWidth":1},
   "encoding":{"y":{"field":"v","type":"quantitative","axis":null},"x":{"datum":-90,"type":"quantitative","axis":null},"x2":{"datum":-87.59}}}
 ],
 "resolve":{"axis":{"x":"independent","y":"independent"}}
},
{
 "title":{"text":"MRI","offset":3},
 "width":374,"height":422,
 "layer":[
  {"data":{"name":"right"},"transform":[{"filter":"datum.lv==='pos'"}],
   "mark":{"type":"line","color":"black","strokeWidth":1},
   "encoding":{
    "x":{"field":"lat","type":"quantitative","scale":{"domain":[-90,90],"reverse":true,"nice":false,"zero":false},
      "axis":{"orient":"bottom","values":[-90,-60,-30,0,30,60,90],"labelExpr":"'' + datum.value","labelPadding":5,"title":"Latitude","titlePadding":6}},
    "y":{"field":"h","type":"quantitative","scale":{"domain":[0,30],"nice":false,"zero":false},"axis":null},
    "detail":{"field":"c"},
    "order":{"field":"i","type":"quantitative"}}},
  {"data":{"name":"right"},"transform":[{"filter":"datum.lv==='zero'"}],
   "mark":{"type":"line","color":"black","strokeWidth":2.6},
   "encoding":{"x":{"field":"lat","type":"quantitative","axis":null},"y":{"field":"h","type":"quantitative","axis":null},"detail":{"field":"c"},"order":{"field":"i","type":"quantitative"}}},
  {"data":{"name":"right"},"transform":[{"filter":"datum.lv==='neg'"}],
   "mark":{"type":"line","color":"black","strokeWidth":1,"strokeDash":[2,6]},
   "encoding":{"x":{"field":"lat","type":"quantitative","axis":null},"y":{"field":"h","type":"quantitative","axis":null},"detail":{"field":"c"},"order":{"field":"i","type":"quantitative"}}},
  {"data":{"name":"xt"},"transform":[{"filter":"datum.k==='major'"}],"mark":{"type":"rule","color":"black","strokeWidth":1},
   "encoding":{"x":{"field":"v","type":"quantitative","axis":null},"y":{"datum":0,"type":"quantitative","axis":null},"y2":{"datum":0.64}}},
  {"data":{"name":"xt"},"transform":[{"filter":"datum.k==='minor'"}],"mark":{"type":"rule","color":"black","strokeWidth":1},
   "encoding":{"x":{"field":"v","type":"quantitative","axis":null},"y":{"datum":0,"type":"quantitative","axis":null},"y2":{"datum":0.355}}},
  {"data":{"name":"xt"},"transform":[{"filter":"datum.k==='major'"}],"mark":{"type":"rule","color":"black","strokeWidth":1},
   "encoding":{"x":{"field":"v","type":"quantitative","axis":null},"y":{"datum":30,"type":"quantitative","axis":null},"y2":{"datum":29.36}}},
  {"data":{"name":"xt"},"transform":[{"filter":"datum.k==='minor'"}],"mark":{"type":"rule","color":"black","strokeWidth":1},
   "encoding":{"x":{"field":"v","type":"quantitative","axis":null},"y":{"datum":30,"type":"quantitative","axis":null},"y2":{"datum":29.645}}},
  {"data":{"name":"yt"},"transform":[{"filter":"datum.k==='major'"}],"mark":{"type":"rule","color":"black","strokeWidth":1},
   "encoding":{"y":{"field":"v","type":"quantitative","axis":null},"x":{"datum":90,"type":"quantitative","axis":null},"x2":{"datum":85.67}}},
  {"data":{"name":"yt"},"transform":[{"filter":"datum.k==='minor'"}],"mark":{"type":"rule","color":"black","strokeWidth":1},
   "encoding":{"y":{"field":"v","type":"quantitative","axis":null},"x":{"datum":90,"type":"quantitative","axis":null},"x2":{"datum":87.59}}},
  {"data":{"name":"yt"},"transform":[{"filter":"datum.k==='major'"}],"mark":{"type":"rule","color":"black","strokeWidth":1},
   "encoding":{"y":{"field":"v","type":"quantitative","axis":null},"x":{"datum":-90,"type":"quantitative","axis":null},"x2":{"datum":-85.67}}},
  {"data":{"name":"yt"},"transform":[{"filter":"datum.k==='minor'"}],"mark":{"type":"rule","color":"black","strokeWidth":1},
   "encoding":{"y":{"field":"v","type":"quantitative","axis":null},"x":{"datum":-90,"type":"quantitative","axis":null},"x2":{"datum":-87.59}}}
 ],
 "resolve":{"axis":{"x":"independent","y":"independent"}}
}
]
}
